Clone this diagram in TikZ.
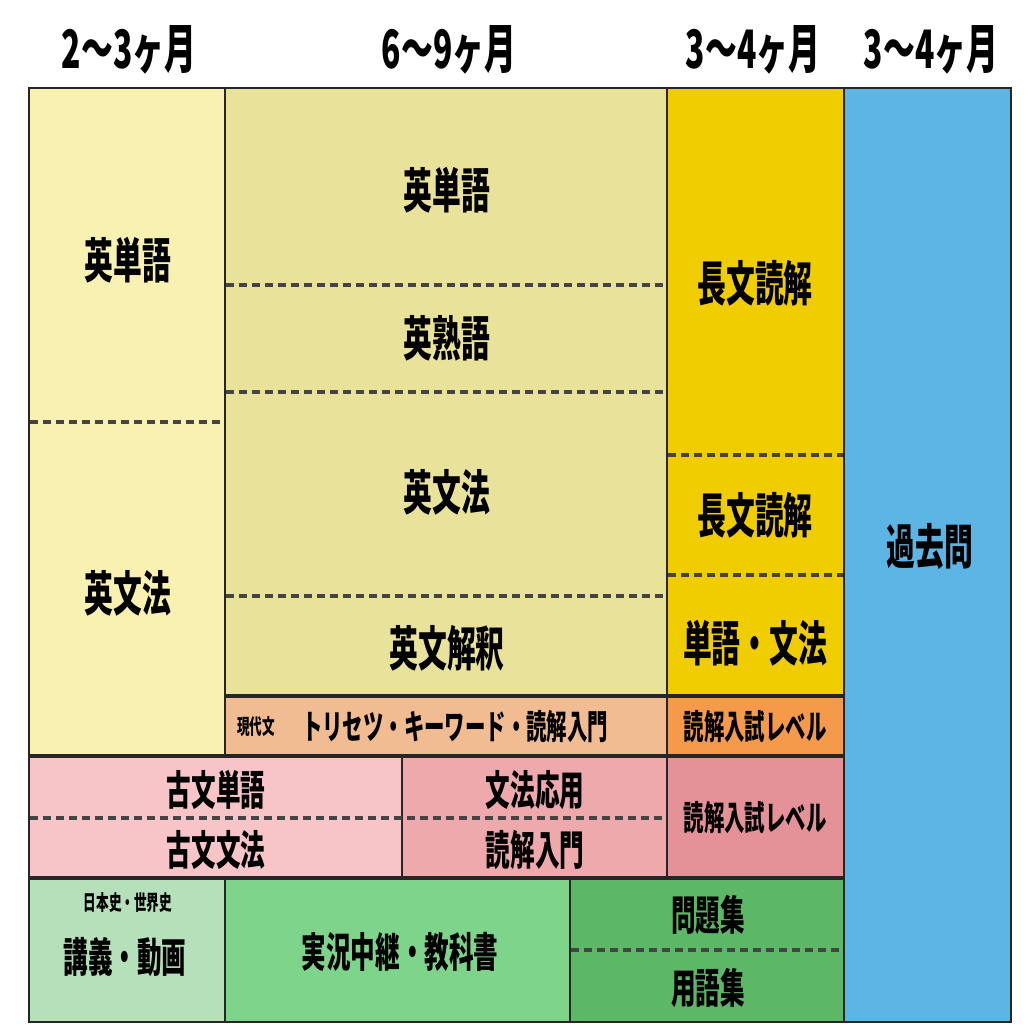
\documentclass[tikz,border=0pt]{standalone}
\usepackage{fontspec}
\setmainfont{Noto Sans CJK JP}[FakeStretch=0.6, BoldFont=* Black]

\definecolor{kisoY}{HTML}{F8F1B1}
\definecolor{tsujoY}{HTML}{E8E29A}
\definecolor{chokiY}{HTML}{F0CD00}
\definecolor{kakoB}{HTML}{5DB5E5}
\definecolor{gendaiO}{HTML}{F2BC92}
\definecolor{nyushiO}{HTML}{F49A4A}
\definecolor{kobunP}{HTML}{F7C5C8}
\definecolor{kobunQ}{HTML}{EEA9AD}
\definecolor{nyushiP}{HTML}{E49297}
\definecolor{koginG}{HTML}{B5E0B9}
\definecolor{jikkyoG}{HTML}{7ED48A}
\definecolor{mondaiG}{HTML}{5CB866}
\definecolor{dashG}{HTML}{444444}

\tikzstyle{cell} = [draw=black!85, line width=2.2pt]
\tikzstyle{sep} = [draw=dashG, line width=3.4pt, dash pattern=on 8pt off 5pt]
\tikzstyle{head} = [font=\bfseries\fontsize{53}{53}\selectfont]
\tikzstyle{big} = [font=\bfseries\fontsize{48}{48}\selectfont]
\tikzstyle{mid} = [font=\bfseries\fontsize{41}{41}\selectfont]
\tikzstyle{small} = [font=\bfseries\fontsize{34}{34}\selectfont]
\tikzstyle{tiny} = [font=\bfseries\fontsize{21}{21}\selectfont]

\begin{document}
\begin{tikzpicture}[x=1pt, y=-1pt]
\useasboundingbox (0,0) rectangle (1034,1034);

% headers
\node (h1) [head] at (129,50) {2～3ヶ月};
\node (h2) [head] at (449,50) {6～9ヶ月};
\node (h3) [head] at (753,50) {3～4ヶ月};
\node (h4) [head] at (931,50) {3～4ヶ月};

% cells
\draw [cell, fill=kisoY] (29,88) rectangle (225,755);
\draw [cell, fill=tsujoY] (225,88) rectangle (667,695);
\draw [cell, fill=chokiY] (667,88) rectangle (844,695);
\draw [cell, fill=kakoB] (844,88) rectangle (1011,1022);
\draw [cell, fill=gendaiO] (225,697) rectangle (667,755);
\draw [cell, fill=nyushiO] (667,697) rectangle (844,755);
\draw [cell, fill=kobunP] (29,757) rectangle (402,877);
\draw [cell, fill=kobunQ] (402,757) rectangle (667,877);
\draw [cell, fill=nyushiP] (667,757) rectangle (844,877);
\draw [cell, fill=koginG] (29,879) rectangle (225,1022);
\draw [cell, fill=jikkyoG] (225,879) rectangle (570,1022);
\draw [cell, fill=mondaiG] (570,879) rectangle (844,1022);

% dashed separators
\draw [sep] (30,422) -- (224,422);
\draw [sep] (226,285) -- (666,285);
\draw [sep] (226,392) -- (666,392);
\draw [sep] (226,596) -- (666,596);
\draw [sep] (668,455) -- (843,455);
\draw [sep] (668,575) -- (843,575);
\draw [sep] (30,818) -- (666,818);
\draw [sep] (571,950) -- (843,950);

% labels
\node (tango1) [big] at (128,260) {英単語};
\node (bunpo1) [big] at (128,593) {英文法};
\node (tango2) [big] at (447,190) {英単語};
\node (jukugo) [big] at (447,338) {英熟語};
\node (bunpo2) [big] at (447,492) {英文法};
\node (kaishaku) [big] at (447,648) {英文解釈};
\node (choubun1) [big] at (755,283) {長文読解};
\node (choubun2) [big] at (755,515) {長文読解};
\node (tangobunpo) [big] at (755,643) {単語・文法};
\node (kakomon) [big] at (930,546) {過去問};
\node (gendai) [tiny] at (256,727) {現代文};
\node (torisetsu) [small] at (455,727) {トリセツ・キーワード・読解入門};
\node (nyushi1) [small] at (755,727) {読解入試レベル};
\node (kotango) [mid] at (216,790) {古文単語};
\node (kobunpo) [mid] at (216,850) {古文文法};
\node (oyo) [mid] at (535,790) {文法応用};
\node (nyumon) [mid] at (535,850) {読解入門};
\node (nyushi2) [small] at (755,818) {読解入試レベル};
\node (shi) [tiny] at (128,903) {日本史・世界史};
\node (kogi) [mid] at (125,957) {講義・動画};
\node (jikkyo) [mid] at (400,952) {実況中継・教科書};
\node (mondai) [mid] at (708,915) {問題集};
\node (yogo) [mid] at (708,988) {用語集};

\end{tikzpicture}
\end{document}
